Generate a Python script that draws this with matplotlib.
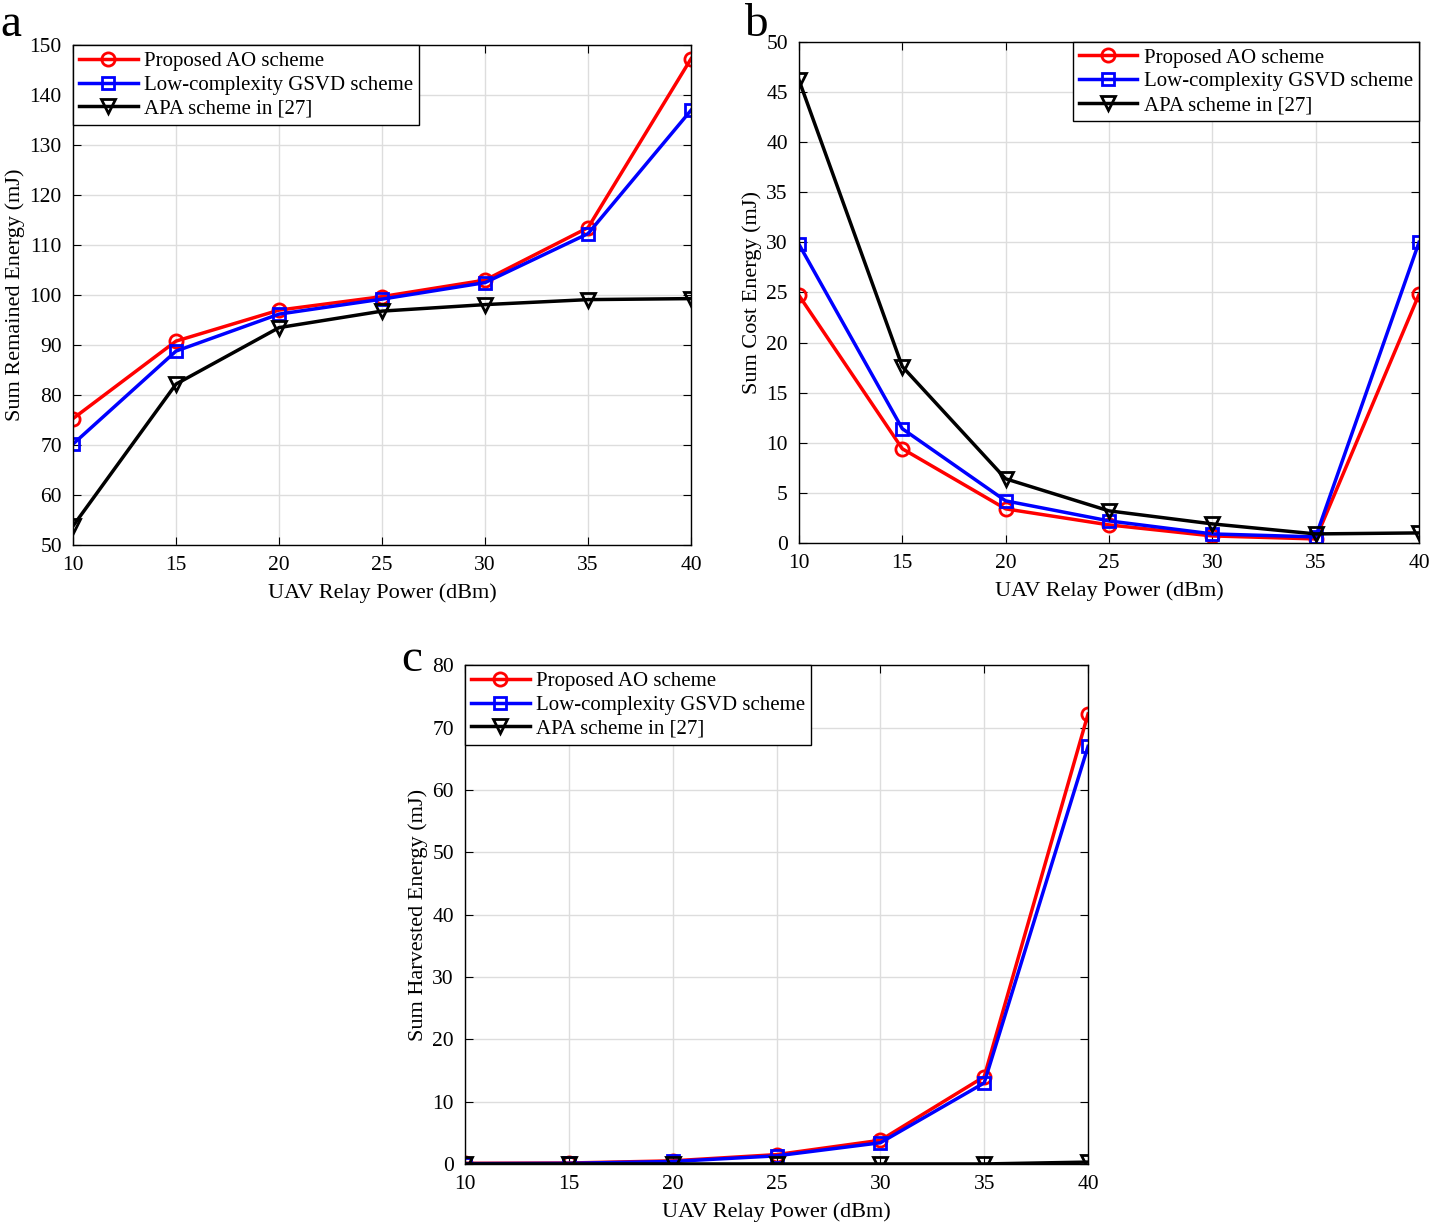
import numpy as np
from matplotlib import pyplot as plt

plt.rcParams["font.family"] = ["Liberation Serif", "DejaVu Serif"]

# x values shared by all three panels
power = [10, 15, 20, 25, 30, 35, 40]

# panel a: sum remained energy (mJ)
remained_ao = [75.3, 90.8, 97.0, 99.7, 103.0, 113.5, 147.3]
remained_gsvd = [70.2, 88.8, 96.2, 99.2, 102.5, 112.3, 137.0]
remained_apa = [53.8, 82.2, 93.5, 96.8, 98.1, 99.1, 99.3]

# panel b: sum cost energy (mJ)
cost_ao = [24.7, 9.4, 3.4, 1.8, 0.7, 0.4, 24.8]
cost_gsvd = [29.8, 11.4, 4.2, 2.2, 0.9, 0.6, 30.0]
cost_apa = [46.2, 17.6, 6.4, 3.2, 1.9, 0.9, 1.0]

# panel c: sum harvested energy (mJ)
harv_ao = [0.1, 0.15, 0.5, 1.5, 3.8, 14.0, 72.2]
harv_gsvd = [0.05, 0.1, 0.4, 1.3, 3.4, 13.0, 67.0]
harv_apa = [0.0, 0.0, 0.0, 0.0, 0.0, 0.0, 0.3]

labels = ["Proposed AO scheme", "Low-complexity GSVD scheme", "APA scheme in [27]"]
styles = [("#ff0000", "o"), ("#0000ff", "s"), ("#000000", "v")]

fig = plt.figure(figsize=(14.29, 12.22), dpi=100)

panels = [
    # rect, letter pos, letter, ylabel, ylim, yticks, data, legend loc
    ([0.0511, 0.554, 0.4325, 0.409], (0.0, 0.9705), "a", "Sum Remained Energy (mJ)",
     (50, 150), np.arange(50, 151, 10), [remained_ao, remained_gsvd, remained_apa], "upper left"),
    ([0.5591, 0.5557, 0.4339, 0.41], (0.5205, 0.9705), "b", "Sum Cost Energy (mJ)",
     (0, 50), np.arange(0, 51, 5), [cost_ao, cost_gsvd, cost_apa], "upper right"),
    ([0.3254, 0.0475, 0.436, 0.408], (0.2805, 0.451), "c", "Sum Harvested Energy (mJ)",
     (0, 80), np.arange(0, 81, 10), [harv_ao, harv_gsvd, harv_apa], "upper left"),
]

for rect, lpos, letter, ylabel, ylim, yticks, series, loc in panels:
    ax = fig.add_axes(rect)
    for vals, (col, mk), lab in zip(series, styles, labels):
        ax.plot(power, vals, color=col, marker=mk, markersize=9.5 if mk != "s" else 8.5,
                markerfacecolor="none", markeredgewidth=2, linewidth=2.5, label=lab)
    ax.set_xlim(10, 40)
    ax.set_ylim(*ylim)
    ax.set_xticks(power)
    ax.set_yticks(yticks)
    ax.grid(True, color="#dddddd", linewidth=1)
    ax.set_axisbelow(True)
    ax.tick_params(direction="in", top=True, right=True, labelsize=15.5, length=6, pad=8)
    for sp in ax.spines.values():
        sp.set_linewidth(1)
    ax.set_xlabel("UAV Relay Power (dBm)", fontsize=16, labelpad=6)
    ax.set_ylabel(ylabel, fontsize=16, labelpad=3)
    leg = ax.legend(loc=loc, fontsize=15, frameon=True, fancybox=False,
                    borderaxespad=0, handlelength=2.8, borderpad=0.3,
                    labelspacing=0.2, handletextpad=0.3)
    leg.get_frame().set_edgecolor("black")
    leg.get_frame().set_linewidth(1)
    leg.get_frame().set_alpha(1)
    fig.text(lpos[0], lpos[1], letter, fontsize=34, ha="left", va="baseline")

fig.savefig("out.png", dpi=100)
